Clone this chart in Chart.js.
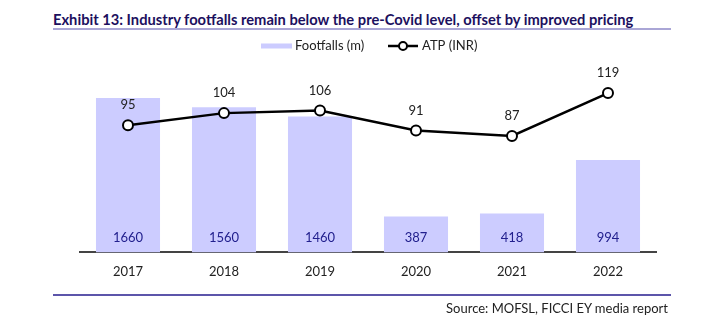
<!DOCTYPE html>
<html>
<head>
<meta charset="utf-8">
<script src="https://cdn.jsdelivr.net/npm/chart.js@4"></script>
<style>
  body { margin: 0; background: #fff; }
  #wrap { position: relative; width: 702px; height: 326px; font-family: Lato, "Open Sans", sans-serif; }
  #title { position: absolute; left: 53px; top: 10px; font-size: 14.7px; font-weight: bold; color: #1c105e; white-space: nowrap; }
  #rule-top { position: absolute; left: 53px; top: 28px; width: 618px; height: 2px; background: #aaa6d6; }
  #rule-bottom { position: absolute; left: 53px; top: 294px; width: 618px; height: 2px; background: #5c55aa; }
  #source { position: absolute; right: 34px; top: 300px; font-size: 13px; color: #222; white-space: nowrap; }
  #grafica { position: absolute; left: 0; top: 0; }
</style>
</head>
<body>
<div id="wrap">
  <div id="title">Exhibit 13: Industry footfalls remain below the pre-Covid level, offset by improved pricing</div>
  <div id="rule-top"></div>
  <canvas id="grafica" width="702" height="326"></canvas>
  <div id="rule-bottom"></div>
  <div id="source">Source: MOFSL, FICCI EY media report</div>
</div>
<script>
const $grafica = document.querySelector("#grafica");

const anios = ["2017", "2018", "2019", "2020", "2021", "2022"];
const footfalls = [1660, 1560, 1460, 387, 418, 994];
const atp = [95, 104, 106, 91, 87, 119];

const fuente = "Lato, 'Open Sans', sans-serif";

// valores dentro de las barras y encima de los puntos, más la leyenda dibujada a mano
const etiquetasValores = {
    id: 'etiquetasValores',
    afterDatasetsDraw(chart) {
        const ctx = chart.ctx;
        const base = chart.chartArea.bottom;
        ctx.save();
        ctx.font = "13px " + fuente;
        ctx.textAlign = 'center';
        ctx.textBaseline = 'middle';

        ctx.fillStyle = '#22208e';
        chart.getDatasetMeta(0).data.forEach((barra, i) => {
            ctx.fillText(footfalls[i], barra.x, base - 15);
        });

        ctx.fillStyle = '#222';
        chart.getDatasetMeta(1).data.forEach((punto, i) => {
            ctx.fillText(atp[i], punto.x, punto.y - 20);
        });
        ctx.restore();
    },
    afterDraw(chart) {
        const ctx = chart.ctx;
        const ds = chart.data.datasets;
        const y = 46;
        ctx.save();
        ctx.font = "13px " + fuente;
        ctx.textBaseline = 'middle';
        ctx.textAlign = 'left';

        ctx.fillStyle = ds[0].backgroundColor;
        ctx.fillRect(261, y - 2.5, 31, 5);
        ctx.fillStyle = '#222';
        ctx.fillText(ds[0].label, 295, y);

        ctx.strokeStyle = ds[1].borderColor;
        ctx.lineWidth = 2.5;
        ctx.beginPath();
        ctx.moveTo(388, y);
        ctx.lineTo(418, y);
        ctx.stroke();
        ctx.beginPath();
        ctx.arc(403, y, 4, 0, Math.PI * 2);
        ctx.fillStyle = '#fff';
        ctx.fill();
        ctx.lineWidth = 2;
        ctx.stroke();
        ctx.fillStyle = '#222';
        ctx.fillText(ds[1].label, 422, y);
        ctx.restore();
    }
};

new Chart($grafica, {
    data: {
        labels: anios,
        datasets: [
            {
                type: 'bar',
                label: 'Footfalls (m)',
                data: footfalls,
                yAxisID: 'y',
                backgroundColor: '#ccccff',
                barPercentage: 0.667,
                categoryPercentage: 1,
                order: 1,
            },
            {
                type: 'line',
                label: 'ATP (INR)',
                data: atp,
                yAxisID: 'y2',
                borderColor: '#000',
                borderWidth: 2.5,
                pointRadius: 5,
                pointBorderWidth: 2,
                pointBackgroundColor: '#fff',
                pointBorderColor: '#000',
                order: 0,
            },
        ]
    },
    options: {
        responsive: false,
        animation: false,
        layout: { padding: { left: 80, right: 46, top: 85, bottom: 34 } },
        plugins: {
            legend: { display: false },
            tooltip: { enabled: false },
        },
        scales: {
            x: {
                offset: true,
                grid: { display: false, drawTicks: false },
                border: { display: true, color: '#444', width: 2 },
                ticks: { color: '#222', font: { size: 13, family: fuente }, padding: 12 },
            },
            y: { display: false, min: 0, max: 1800 },
            y2: { display: false, min: 0, max: 125 },
        }
    },
    plugins: [etiquetasValores],
});
</script>
</body>
</html>
